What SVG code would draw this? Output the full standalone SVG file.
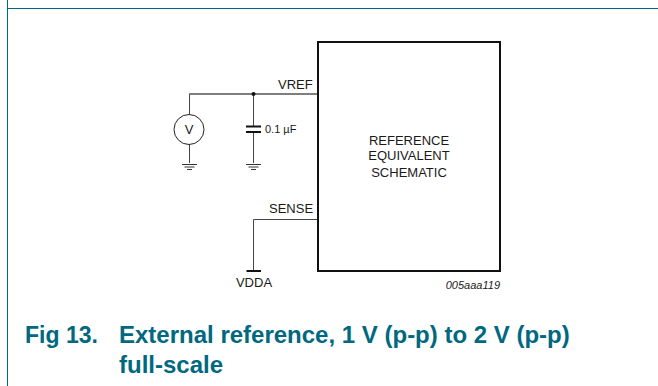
<svg xmlns="http://www.w3.org/2000/svg" width="658" height="386" viewBox="0 0 658 386">
<style>
text{font-family:"Liberation Sans",Arial,sans-serif;fill:#1a1a1a}
.s{font-size:13px}
.c{text-anchor:middle}
.cap{font-size:24px;font-weight:bold;fill:#00687f}
.w{fill:none;stroke:#444;stroke-width:1}
.k{fill:none;stroke:#111;stroke-width:2}
.g{fill:none;stroke:#333;stroke-width:1}
</style>
<rect width="658" height="386" fill="#fff"/>
<g id="frame"><path d="M7.500 0V386M7 8.500H658" fill="none" stroke="#00687f" stroke-width="1"/></g>
<g id="connectors">
<path class="w" d="M189.500 94.500V114M189.500 145V163M253.500 94.500V126M253.500 132V163" />
<path d="M189 94H318" fill="none" stroke="#555" stroke-width="1.500"/>
<path class="w" d="M318 219.500H253.500V270"/>
<circle cx="253.500" cy="94" r="2" fill="#111"/>
</g>
<g id="reference-block">
<rect class="k" x="318" y="42" width="182" height="229"/>
<text class="s c" x="409" y="144.500">REFERENCE</text>
<text class="s c" x="409" y="160">EQUIVALENT</text>
<text class="s c" x="409" y="176.500">SCHEMATIC</text>
</g>
<g id="vref-label"><text class="s" x="278" y="89">VREF</text></g>
<g id="sense-label"><text class="s" x="269" y="213">SENSE</text></g>
<g id="voltmeter">
<circle cx="189" cy="129.500" r="15" fill="#fff" stroke="#222" stroke-width="1"/>
<text class="s c" x="189" y="134">V</text>
</g>
<g id="capacitor">
<path d="M246 126.500H261M246 132H261" fill="none" stroke="#111" stroke-width="2"/>
<text x="265" y="133" font-size="11px">0.1 µF</text>
</g>
<g id="ground-1"><path class="g" d="M182 164.500H197M184.500 167H194.500M187 169.500H192"/></g>
<g id="ground-2"><path class="g" d="M246 164.500H261M248.500 167H258.500M251 169.500H256"/></g>
<g id="vdda">
<path d="M246.500 271H261" fill="none" stroke="#111" stroke-width="2"/>
<text class="s c" x="254" y="286.500">VDDA</text>
</g>
<g id="code"><text x="500" y="289" font-size="11px" font-style="italic" text-anchor="end">005aaa119</text></g>
<g id="caption">
<text class="cap" x="25" y="343" style="font-size:23px">Fig 13.</text>
<text class="cap" x="119" y="343">External reference, 1 V (p-p) to 2 V (p-p)</text>
<text class="cap" x="119" y="373">full-scale</text>
</g>
</svg>
